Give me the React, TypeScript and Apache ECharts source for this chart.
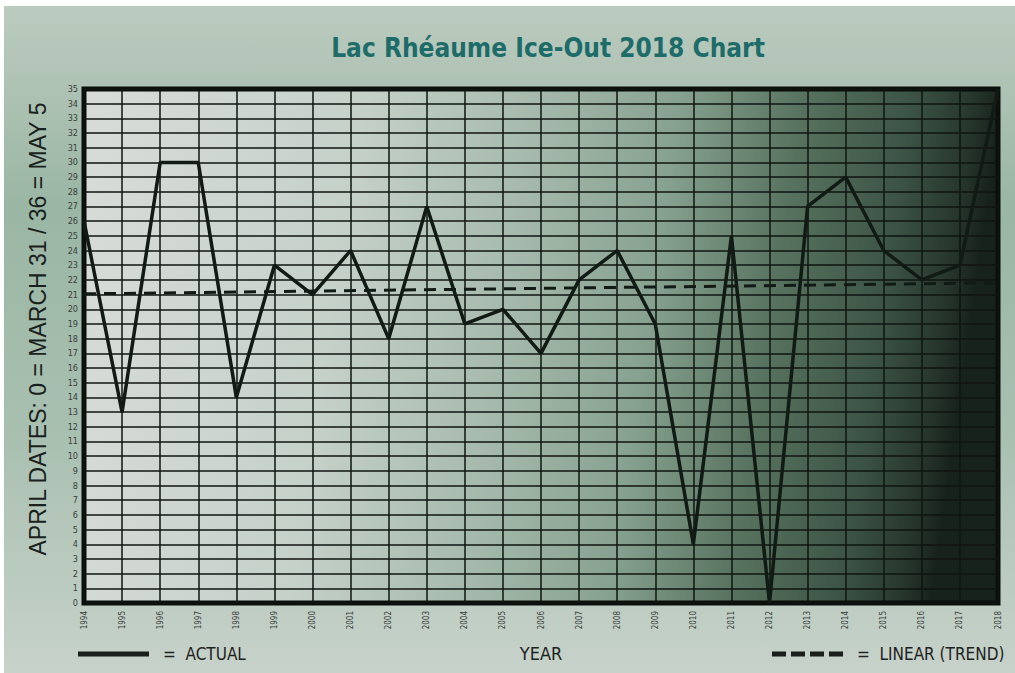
import React, { useEffect, useRef } from "react";
import * as echarts from "echarts";

const years = [
  "1994", "1995", "1996", "1997", "1998", "1999", "2000", "2001", "2002",
  "2003", "2004", "2005", "2006", "2007", "2008", "2009", "2010", "2011",
  "2012", "2013", "2014", "2015", "2016", "2017", "2018",
];
const iceOutDay = [
  26, 13, 30, 30, 14, 23, 21, 24, 18, 27, 19, 20, 17, 22, 24, 19, 4, 25, 0,
  27, 29, 24, 22, 23, 35,
];
const trendStart = 21.05;
const trendEnd = 21.8;
const yMin = 0;
const yMax = 35;
const yStep = 1;

const titleText = "Lac Rhéaume Ice-Out 2018 Chart";
const yAxisTitle = "APRIL DATES: 0 = MARCH 31 / 36 = MAY 5";
const xAxisTitle = "YEAR";
const legendActual = "=  ACTUAL";
const legendTrend = "=  LINEAR (TREND)";

const condensed =
  "'Liberation Sans Narrow', 'DejaVu Sans Condensed', 'Liberation Sans', Arial, sans-serif";
const labelFont = "'Liberation Sans', Arial, sans-serif";

export default function App() {
  const ref = useRef<HTMLDivElement>(null);

  useEffect(() => {
    if (!ref.current) return;
    const chart = echarts.init(ref.current, undefined, { renderer: "svg" });
    const option: any = {
      animation: false,
      backgroundColor: "#ffffff",
      title: {
        text: titleText,
        left: 543,
        top: 30,
        textAlign: "center",
        textStyle: {
          color: "#1d6c69",
          fontSize: 26,
          fontWeight: "bold",
          fontFamily: "'DejaVu Sans Condensed', 'Liberation Sans Narrow', sans-serif",
        },
      },
      graphic: [
        {
          type: "rect",
          z: -10,
          silent: true,
          shape: { x: 4, y: 6, width: 1011, height: 667 },
          style: {
            fill: new echarts.graphic.LinearGradient(0, 0, 0, 1, [
              { offset: 0, color: "#bccbbf" },
              { offset: 0.3, color: "#9ab6a5" },
              { offset: 0.65, color: "#a9c0b1" },
              { offset: 1, color: "#c7d2ca" },
            ]),
          },
        },
        {
          type: "text",
          x: 38,
          y: 329,
          rotation: Math.PI / 2,
          style: {
            text: yAxisTitle,
            fill: "#1b1f1d",
            font: `23px ${labelFont}`,
            align: "center",
            verticalAlign: "middle",
          },
        },
        {
          type: "line",
          shape: { x1: 78, y1: 654, x2: 149, y2: 654 },
          style: { stroke: "#1a1f1c", lineWidth: 5 },
        },
        {
          type: "text",
          x: 163,
          y: 654,
          style: {
            text: legendActual,
            fill: "#1e2220",
            font: `17px ${condensed}`,
            verticalAlign: "middle",
          },
        },
        {
          type: "line",
          shape: { x1: 772, y1: 654, x2: 844, y2: 654 },
          style: { stroke: "#1a1f1c", lineWidth: 5, lineDash: [14, 5] },
        },
        {
          type: "text",
          x: 857,
          y: 654,
          style: {
            text: legendTrend,
            fill: "#1e2220",
            font: `17px ${condensed}`,
            verticalAlign: "middle",
          },
        },
      ],
      grid: {
        left: 84,
        right: 17,
        top: 89,
        bottom: 70,
        show: true,
        borderWidth: 5,
        borderColor: "#0b0f0c",
        backgroundColor: new echarts.graphic.LinearGradient(0, 0, 1, 0.08, [
          { offset: 0, color: "#d8dcd9" },
          { offset: 0.3, color: "#c6d1ca" },
          { offset: 0.5, color: "#a4b9ab" },
          { offset: 0.65, color: "#87a190" },
          { offset: 0.78, color: "#58735f" },
          { offset: 0.9, color: "#3c5446" },
          { offset: 0.97, color: "#26352c" },
          { offset: 1, color: "#18221c" },
        ]),
      },
      xAxis: {
        type: "category",
        data: years,
        boundaryGap: false,
        name: xAxisTitle,
        nameLocation: "middle",
        nameGap: 41,
        nameTextStyle: {
          color: "#1e2220",
          fontSize: 18,
          fontFamily: condensed,
        },
        axisLine: { show: false },
        axisTick: { show: false },
        axisLabel: {
          interval: 0,
          rotate: 90,
          fontSize: 8,
          color: "#3c403d",
          margin: 8,
          fontFamily: condensed,
        },
        splitLine: {
          show: true,
          interval: 0,
          lineStyle: { color: "#0f1511", width: 1.5 },
        },
      },
      yAxis: {
        type: "value",
        min: yMin,
        max: yMax,
        interval: yStep,
        axisLine: { show: false },
        axisTick: { show: false },
        axisLabel: {
          fontSize: 9,
          color: "#3a3f3c",
          margin: 6,
          fontFamily: condensed,
        },
        splitLine: {
          show: true,
          lineStyle: { color: "#0f1511", width: 1.5 },
        },
      },
      series: [
        {
          name: "Actual",
          type: "line",
          data: iceOutDay,
          symbol: "none",
          z: 5,
          lineStyle: { color: "#121a15", width: 3.5 },
        },
        {
          name: "Linear (Trend)",
          type: "line",
          data: [
            [years[0], trendStart],
            [years[years.length - 1], trendEnd],
          ],
          symbol: "none",
          z: 4,
          lineStyle: { color: "#121a15", width: 3, type: [12, 8] },
        },
      ],
    };
    chart.setOption(option);
    return () => chart.dispose();
  }, []);

  return (
    <div
      ref={ref}
      style={{ position: "fixed", left: 0, top: 0, width: 1015, height: 673 }}
    />
  );
}
